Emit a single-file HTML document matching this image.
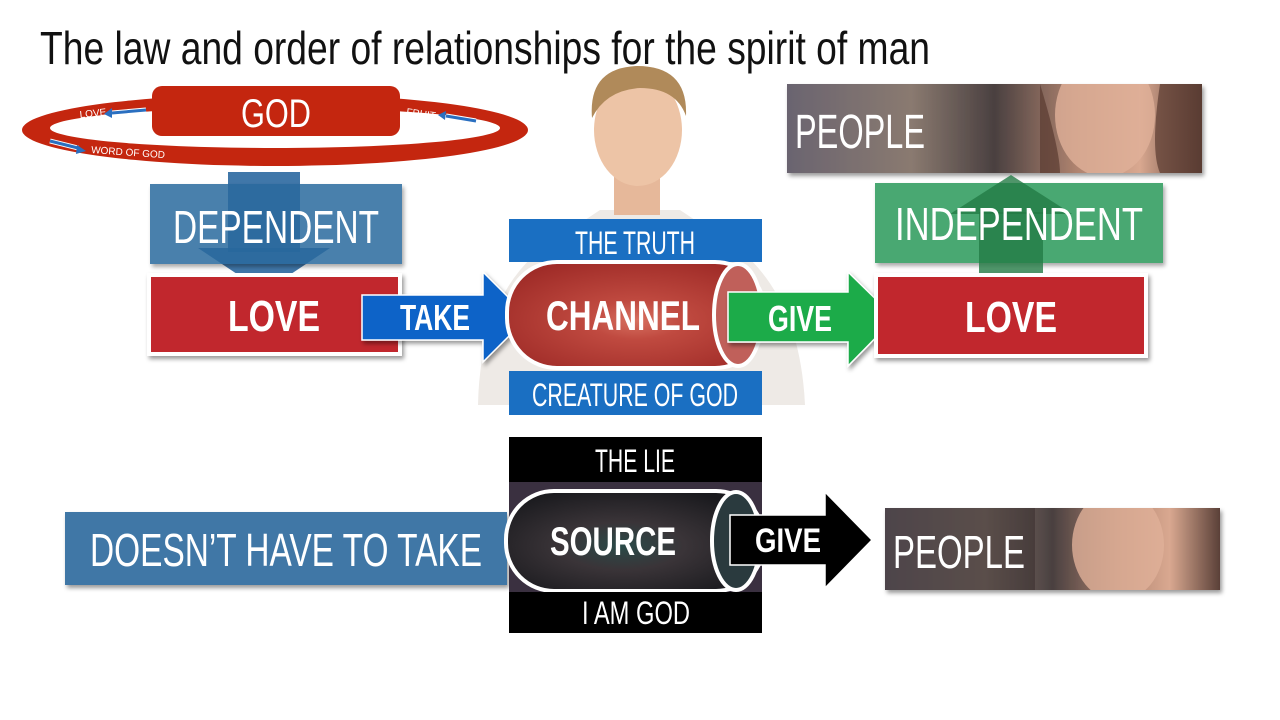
<!DOCTYPE html>
<html><head><meta charset="utf-8"><style>
html,body{margin:0;padding:0;background:#fff;width:1280px;height:720px;overflow:hidden}
svg text{font-family:"Liberation Sans Narrow","Liberation Sans",sans-serif}
</style></head><body>
<svg width="1280" height="720" viewBox="0 0 1280 720" xmlns="http://www.w3.org/2000/svg">
<defs>
<filter id="sh" x="-10%" y="-10%" width="130%" height="140%"><feDropShadow dx="2" dy="3" stdDeviation="2" flood-opacity="0.4"/></filter>
<linearGradient id="ppl" x1="0" x2="1" y1="0" y2="0"><stop offset="0" stop-color="#6a6470"/><stop offset="0.3" stop-color="#8a7a70"/><stop offset="0.5" stop-color="#4a4040"/><stop offset="0.7" stop-color="#b08470"/><stop offset="0.85" stop-color="#d9a890"/><stop offset="1" stop-color="#5a4038"/></linearGradient>
<radialGradient id="eye" cx="0.5" cy="0.55" r="0.6"><stop offset="0" stop-color="#d77060"/><stop offset="0.3" stop-color="#c04a40"/><stop offset="1" stop-color="#a02c28"/></radialGradient>
<radialGradient id="src" cx="0.45" cy="0.55" r="0.6"><stop offset="0" stop-color="#2a4a48"/><stop offset="0.4" stop-color="#3a3438"/><stop offset="1" stop-color="#1a1a1e"/></radialGradient>
<clipPath id="c1"><rect x="787" y="84" width="415" height="89"/></clipPath>
<clipPath id="c2"><rect x="885" y="508" width="335" height="82"/></clipPath>
</defs>

<text x="40" y="64" font-size="46" fill="#111" textLength="890" lengthAdjust="spacingAndGlyphs">The law and order of relationships for the spirit of man</text>

<!-- ring -->
<path fill-rule="evenodd" fill="#c4260f" d="M22 130 A253 36 0 1 0 528 130 A253 36 0 1 0 22 130Z M50 128 A225 20 0 1 1 500 128 A225 20 0 1 1 50 128Z"/>
<rect x="152" y="86" width="248" height="50" rx="10" fill="#c4260f"/>
<text x="276" y="127" font-size="40" fill="#fff" text-anchor="middle" textLength="70" lengthAdjust="spacingAndGlyphs">GOD</text>
<text x="80" y="118" font-size="10" fill="#fff" transform="rotate(-6 80 118)">LOVE</text>
<path d="M112 113 L146 110" stroke="#fff" stroke-width="5"/><path d="M112 113 L146 110" stroke="#2a6fc0" stroke-width="3"/><path d="M104 114 L112 108 L112 118Z" fill="#2a6fc0"/>
<text x="406" y="115" font-size="10" fill="#fff" transform="rotate(8 406 115)">FRUIT</text>
<path d="M446 116 L476 121" stroke="#fff" stroke-width="5"/><path d="M446 116 L476 121" stroke="#2a6fc0" stroke-width="3"/><path d="M438 115 L446 111 L445 120Z" fill="#2a6fc0"/>
<path d="M50 141 L78 148" stroke="#fff" stroke-width="5"/><path d="M50 141 L78 148" stroke="#2a6fc0" stroke-width="3"/><path d="M86 151 L77 145 L76 154Z" fill="#2a6fc0"/>
<text x="91" y="153" font-size="10" fill="#fff" transform="rotate(4 91 153)">WORD OF GOD</text>

<!-- dependent arrow -->
<rect x="228" y="172" width="72" height="80" fill="#1f5f9a" opacity="0.85"/>
<path d="M198 248 L330 248 L264 292Z" fill="#1f5f9a" opacity="0.85"/>
<rect x="150" y="184" width="252" height="80" fill="#2a6a9e" opacity="0.85" filter="url(#sh)"/>
<text x="276" y="243" font-size="46" fill="#fff" text-anchor="middle" textLength="206" lengthAdjust="spacingAndGlyphs">DEPENDENT</text>

<!-- person -->
<path d="M478 405 Q480 300 540 250 L600 210 L680 210 L740 250 Q800 300 805 405Z" fill="#eeeae6"/>
<rect x="614" y="170" width="46" height="45" fill="#e6b89a"/>
<ellipse cx="638" cy="130" rx="44" ry="56" fill="#edc4a6"/>
<path d="M592 118 Q588 68 637 66 Q688 66 686 116 Q676 88 640 88 Q606 90 592 118Z" fill="#b08a5a"/>

<!-- left LOVE -->
<rect x="147" y="273" width="255" height="83" fill="#fff" filter="url(#sh)"/>
<rect x="151" y="277" width="247" height="75" fill="#c1272d"/>
<text x="274" y="331" font-size="44" font-weight="bold" fill="#fff" text-anchor="middle" textLength="92" lengthAdjust="spacingAndGlyphs">LOVE</text>

<!-- TAKE arrow -->
<path d="M362 295 L483 295 L483 272 L528 317 L483 362 L483 340 L362 340Z" fill="#0a64c8" stroke="#fff" stroke-width="1.5" filter="url(#sh)"/>
<text x="435" y="330" font-size="36" font-weight="bold" fill="#fff" text-anchor="middle" textLength="70" lengthAdjust="spacingAndGlyphs">TAKE</text>

<!-- truth -->
<rect x="509" y="219" width="253" height="43" fill="#1a6fc2"/>
<text x="635" y="254" font-size="32" fill="#fff" text-anchor="middle" textLength="120" lengthAdjust="spacingAndGlyphs">THE TRUTH</text>
<rect x="507" y="262" width="258" height="106" rx="50" fill="url(#eye)" stroke="#fff" stroke-width="4"/>
<ellipse cx="738" cy="315" rx="24" ry="51" fill="#c0605a" stroke="#fff" stroke-width="4"/>
<text x="623" y="330" font-size="42" font-weight="bold" fill="#fff" text-anchor="middle" textLength="154" lengthAdjust="spacingAndGlyphs">CHANNEL</text>
<rect x="509" y="371" width="253" height="44" fill="#1a6fc2"/>
<text x="635" y="406" font-size="32" fill="#fff" text-anchor="middle" textLength="206" lengthAdjust="spacingAndGlyphs">CREATURE OF GOD</text>

<!-- GIVE green -->
<path d="M728 292 L848 292 L848 272 L895 318 L848 366 L848 342 L728 342Z" fill="#1aab4a" stroke="#fff" stroke-width="1.5" filter="url(#sh)"/>
<text x="800" y="331" font-size="36" font-weight="bold" fill="#fff" text-anchor="middle" textLength="64" lengthAdjust="spacingAndGlyphs">GIVE</text>

<!-- people top -->
<rect x="787" y="84" width="415" height="89" fill="url(#ppl)" filter="url(#sh)"/>
<g clip-path="url(#c1)">
<ellipse cx="1105" cy="115" rx="50" ry="62" fill="#e0b098" opacity="0.8"/>
<path d="M1040 84 Q1060 150 1060 173 L1040 173Z M1160 84 Q1150 150 1160 173 L1202 173 L1202 84Z" fill="#5a3a30" opacity="0.7"/>
</g>
<text x="795" y="148" font-size="48" fill="#fff" textLength="130" lengthAdjust="spacingAndGlyphs">PEOPLE</text>

<!-- independent -->
<rect x="875" y="183" width="288" height="80" fill="#2a9a5a" opacity="0.85" filter="url(#sh)"/>
<rect x="979" y="212" width="64" height="78" fill="#237a45" opacity="0.8"/>
<path d="M950 214 L1072 214 L1011 175Z" fill="#237a45" opacity="0.8"/>
<text x="1019" y="240" font-size="46" fill="#fff" text-anchor="middle" textLength="248" lengthAdjust="spacingAndGlyphs">INDEPENDENT</text>

<!-- right LOVE -->
<rect x="874" y="273" width="274" height="85" fill="#fff" filter="url(#sh)"/>
<rect x="878" y="277" width="266" height="77" fill="#c1272d"/>
<text x="1011" y="332" font-size="44" font-weight="bold" fill="#fff" text-anchor="middle" textLength="92" lengthAdjust="spacingAndGlyphs">LOVE</text>

<!-- bottom -->
<rect x="65" y="512" width="442" height="73" fill="#3f77a6" filter="url(#sh)"/>
<text x="286" y="566" font-size="46" fill="#fff" text-anchor="middle" textLength="392" lengthAdjust="spacingAndGlyphs">DOESN’T HAVE TO TAKE</text>
<rect x="509" y="437" width="253" height="45" fill="#000"/>
<text x="635" y="472" font-size="32" fill="#fff" text-anchor="middle" textLength="80" lengthAdjust="spacingAndGlyphs">THE LIE</text>
<rect x="509" y="482" width="253" height="110" fill="#3a3040"/>
<rect x="506" y="491" width="258" height="100" rx="48" fill="url(#src)" stroke="#fff" stroke-width="4"/>
<ellipse cx="736" cy="541" rx="24" ry="49" fill="#2a3a3e" stroke="#fff" stroke-width="4"/>
<text x="613" y="555" font-size="40" font-weight="bold" fill="#fff" text-anchor="middle" textLength="126" lengthAdjust="spacingAndGlyphs">SOURCE</text>
<rect x="509" y="592" width="253" height="41" fill="#000"/>
<text x="636" y="624" font-size="32" fill="#fff" text-anchor="middle" textLength="108" lengthAdjust="spacingAndGlyphs">I AM GOD</text>
<path d="M730 515 L825 515 L825 492 L872 540 L825 588 L825 565 L730 565Z" fill="#000" stroke="#fff" stroke-width="1.5"/>
<text x="788" y="552" font-size="34" font-weight="bold" fill="#fff" text-anchor="middle" textLength="66" lengthAdjust="spacingAndGlyphs">GIVE</text>

<rect x="885" y="508" width="335" height="82" fill="url(#ppl)" filter="url(#sh)"/>
<g clip-path="url(#c2)">
<rect x="885" y="508" width="150" height="82" fill="#3a3030" opacity="0.6"/>
<ellipse cx="1118" cy="545" rx="46" ry="56" fill="#e0b098" opacity="0.8"/>
</g>
<text x="893" y="568" font-size="46" fill="#fff" textLength="132" lengthAdjust="spacingAndGlyphs">PEOPLE</text>
</svg>
</body></html>
